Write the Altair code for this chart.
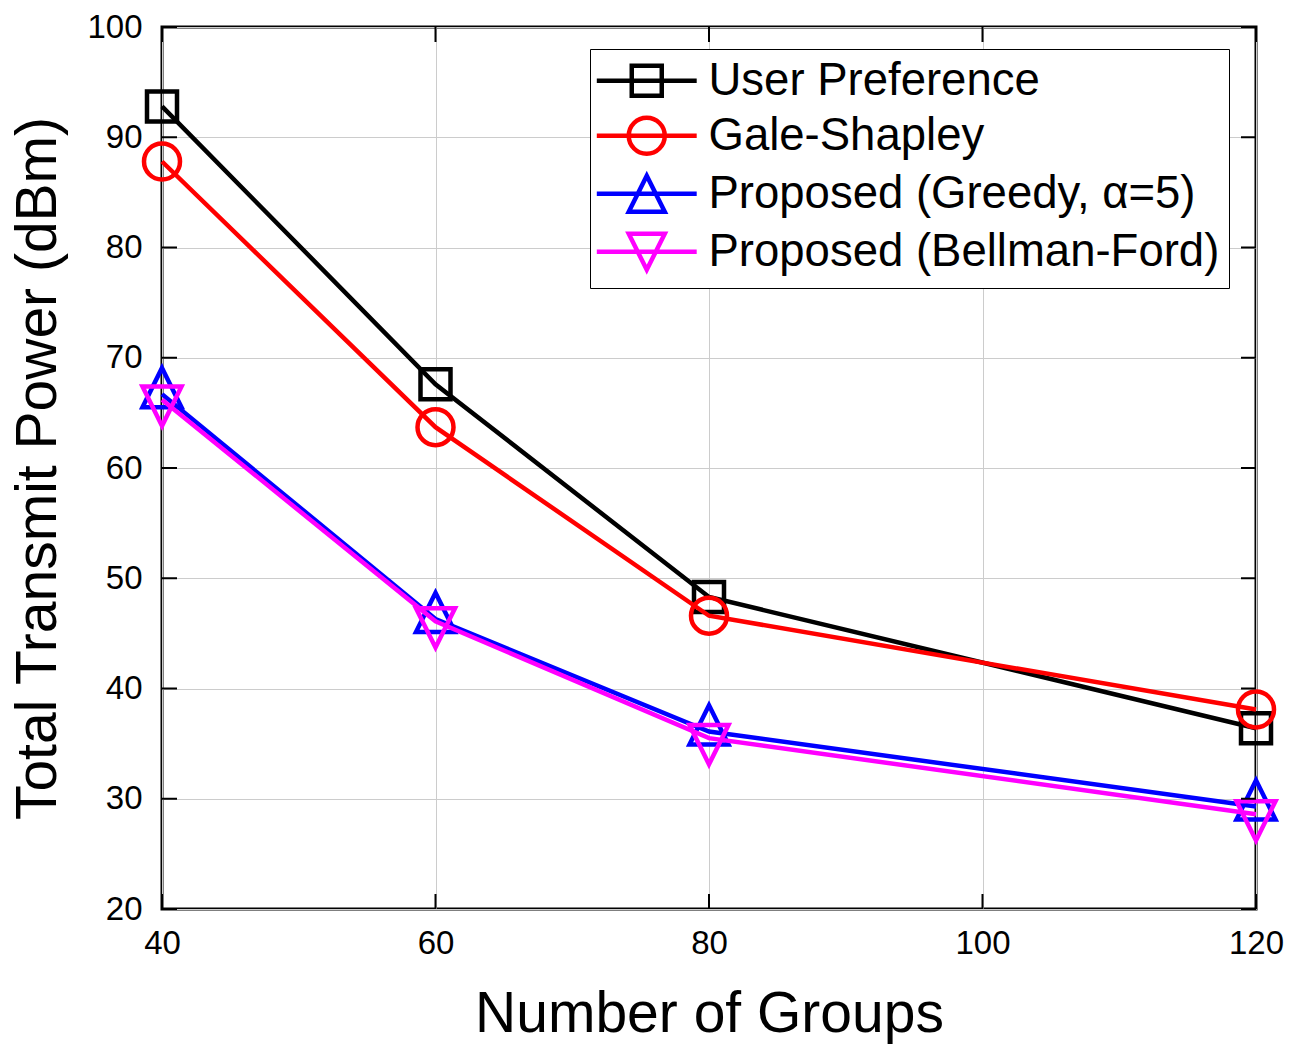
import altair as alt
import pandas as pd

# ---- data ----
groups = [40, 60, 80, 120]
user_pref = [92.8, 67.6, 48.3, 36.4]
gale_shapley = [87.8, 63.7, 46.6, 38.1]
greedy = [66.7, 46.3, 36.1, 29.3]
bellman_ford = [66.2, 46.1, 35.5, 28.6]

series_names = ["User Preference", "Gale-Shapley",
                "Proposed (Greedy, α=5)", "Proposed (Bellman-Ford)"]
series_values = [user_pref, gale_shapley, greedy, bellman_ford]
series_colors = ["#000000", "#ff0000", "#0000ff", "#ff00ff"]

x_ticks = [40, 60, 80, 100, 120]
y_ticks = [20, 30, 40, 50, 60, 70, 80, 90, 100]

# ---- marker shapes (unit paths) ----
SQUARE = "M-1,-1H1V1H-1Z"
CIRCLE = "M1.2,0A1.2,1.2,0,1,1,-1.2,0A1.2,1.2,0,1,1,1.2,0Z"
TRI_UP = "M0,-1.75L1.3,0.87L-1.3,0.87Z"
TRI_DOWN = "M0,1.75L1.3,-0.87L-1.3,-0.87Z"
marker_paths = [SQUARE, CIRCLE, TRI_UP, TRI_DOWN]
LEG_TRI_UP = "M0,-1.2L1.2,1.2L-1.2,1.2Z"
LEG_TRI_DOWN = "M0,1.2L1.2,-1.2L-1.2,-1.2Z"
LEG_LINE = "M-3.33,0H3.33"
legend_paths = [LEG_LINE + p for p in [SQUARE, CIRCLE, LEG_TRI_UP, LEG_TRI_DOWN]]

W, H = 1094, 882
FONT = "Liberation Sans"
LW = 4.5

rows = []
for name, vals in zip(series_names, series_values):
    for g, v in zip(groups, vals):
        rows.append({"series": name, "x": g, "y": v})
df = pd.DataFrame(rows)

xscale = alt.Scale(domain=[40, 120], nice=False, zero=False)
yscale = alt.Scale(domain=[20, 100], nice=False, zero=False)
xaxis = alt.Axis(values=x_ticks, title="Number of Groups", grid=True,
                 ticks=False, tickSize=0, domain=False, labelPadding=18,
                 titleY=122, titleBaseline="alphabetic", labelFlush=False)
yaxis = alt.Axis(values=y_ticks, title="Total Transmit Power (dBm)", grid=True,
                 ticks=False, tickSize=0, domain=False, labelPadding=20,
                 titleX=-107, titleBaseline="alphabetic", labelFlush=False)

X = alt.X("x:Q", scale=xscale, axis=xaxis)
Y = alt.Y("y:Q", scale=yscale, axis=yaxis)

layers = []
for name, col, path in zip(series_names, series_colors, marker_paths):
    base = alt.Chart(df).transform_filter(alt.datum.series == name)
    layers.append(base.mark_line(color=col, strokeWidth=LW).encode(x=X, y=Y))
    layers.append(base.mark_point(shape=path, size=900, filled=False,
                                  color=col, strokeWidth=LW, opacity=1).encode(x=X, y=Y))

# inward ticks
xt = pd.DataFrame({"x": x_ticks})
yt = pd.DataFrame({"y": y_ticks})
layers.append(alt.Chart(xt).mark_rule(color="black", strokeWidth=2).encode(
    x=X, y=alt.value(H), y2=alt.value(H - 15)))
layers.append(alt.Chart(xt).mark_rule(color="black", strokeWidth=2).encode(
    x=X, y=alt.value(0), y2=alt.value(15)))
layers.append(alt.Chart(yt).mark_rule(color="black", strokeWidth=2).encode(
    y=Y, x=alt.value(0), x2=alt.value(15)))
layers.append(alt.Chart(yt).mark_rule(color="black", strokeWidth=2).encode(
    y=Y, x=alt.value(W), x2=alt.value(W - 15)))

# legend-only layer
leg = alt.Legend(title=None, orient="none", legendX=428, legendY=22,
                 labelFontSize=45.5, labelFont=FONT, labelColor="black",
                 symbolSize=900, symbolStrokeWidth=LW, strokeColor="black",
                 fillColor="white", padding=9, rowPadding=3, labelOffset=39,
                 symbolOffset=25, labelLimit=0, symbolFillColor="transparent",
                 symbolOpacity=1)
leg_df = pd.DataFrame({"series": series_names})
layers.append(alt.Chart(leg_df).transform_filter("false").mark_point(
    filled=False, size=900, strokeWidth=LW, opacity=1).encode(
    stroke=alt.Stroke("series:N", scale=alt.Scale(domain=series_names, range=series_colors), legend=leg),
    shape=alt.Shape("series:N", scale=alt.Scale(domain=series_names, range=legend_paths), legend=leg),
))

chart = alt.layer(*layers).properties(
    width=W, height=H,
    autosize=alt.AutoSizeParams(type="none"),
    padding={"left": 162, "top": 27, "right": 38, "bottom": 137},
).configure(font=FONT).configure_view(
    stroke="black", strokeWidth=3
).configure_axis(
    gridColor="#cccccc", gridWidth=1, gridOpacity=1,
    labelFontSize=33, labelFont=FONT, labelColor="black",
    titleFontSize=57, titleFont=FONT, titleFontWeight="normal", titleColor="black",
)

chart.save("out.html", embed_options={"renderer": "svg", "actions": False})
